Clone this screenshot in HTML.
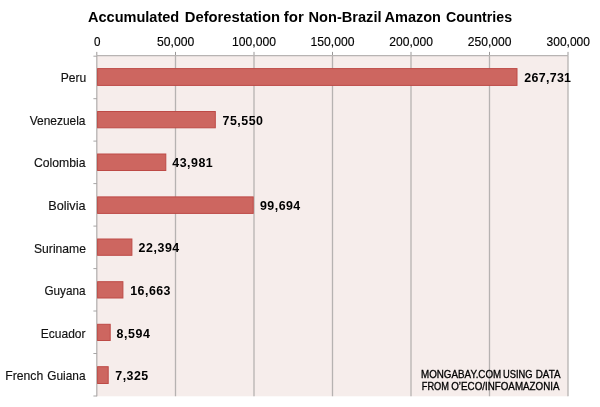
<!DOCTYPE html>
<html><head><meta charset="utf-8"><title>Accumulated Deforestation for Non-Brazil Amazon Countries</title>
<style>
html,body{margin:0;padding:0;background:#fff;}
body{width:600px;height:407px;overflow:hidden;}
svg{display:block;font-family:"Liberation Sans",sans-serif;}
.t{font-weight:bold;font-size:14px;fill:#000;}
.ax{font-size:12.8px;fill:#000;stroke:#000;stroke-width:0.15px;}
.cat{font-size:12.2px;fill:#111;stroke:#111;stroke-width:0.15px;}
.val{font-size:12.4px;font-weight:bold;fill:#000;}
.cr{font-size:10.2px;fill:#000;stroke:#000;stroke-width:0.3px;}
</style></head><body>
<svg width="600" height="407" viewBox="0 0 600 407">
<rect x="0" y="0" width="600" height="407" fill="#ffffff"/>
<rect x="97.0" y="55.7" width="471.0" height="340.6" fill="#f6edeb"/>
<line x1="96.8" y1="55.7" x2="96.8" y2="396.3" stroke="#b6b2b1" stroke-width="1.3"/>
<line x1="96.8" y1="51.9" x2="96.8" y2="55.7" stroke="#9a9898" stroke-width="1"/>
<line x1="175.5" y1="55.7" x2="175.5" y2="396.3" stroke="#b6b2b1" stroke-width="1.3"/>
<line x1="175.5" y1="51.9" x2="175.5" y2="55.7" stroke="#9a9898" stroke-width="1"/>
<line x1="254.0" y1="55.7" x2="254.0" y2="396.3" stroke="#b6b2b1" stroke-width="1.3"/>
<line x1="254.0" y1="51.9" x2="254.0" y2="55.7" stroke="#9a9898" stroke-width="1"/>
<line x1="332.5" y1="55.7" x2="332.5" y2="396.3" stroke="#b6b2b1" stroke-width="1.3"/>
<line x1="332.5" y1="51.9" x2="332.5" y2="55.7" stroke="#9a9898" stroke-width="1"/>
<line x1="411.0" y1="55.7" x2="411.0" y2="396.3" stroke="#b6b2b1" stroke-width="1.3"/>
<line x1="411.0" y1="51.9" x2="411.0" y2="55.7" stroke="#9a9898" stroke-width="1"/>
<line x1="489.5" y1="55.7" x2="489.5" y2="396.3" stroke="#b6b2b1" stroke-width="1.3"/>
<line x1="489.5" y1="51.9" x2="489.5" y2="55.7" stroke="#9a9898" stroke-width="1"/>
<line x1="568.0" y1="55.7" x2="568.0" y2="396.3" stroke="#b6b2b1" stroke-width="1.3"/>
<line x1="568.0" y1="51.9" x2="568.0" y2="55.7" stroke="#9a9898" stroke-width="1"/>
<line x1="97.0" y1="55.7" x2="568.0" y2="55.7" stroke="#b8b4b3" stroke-width="1.3"/>
<line x1="93.4" y1="56.2" x2="97.0" y2="56.2" stroke="#a8a6a6" stroke-width="1"/>
<line x1="93.4" y1="98.7" x2="97.0" y2="98.7" stroke="#a8a6a6" stroke-width="1"/>
<line x1="93.4" y1="141.1" x2="97.0" y2="141.1" stroke="#a8a6a6" stroke-width="1"/>
<line x1="93.4" y1="183.6" x2="97.0" y2="183.6" stroke="#a8a6a6" stroke-width="1"/>
<line x1="93.4" y1="226.1" x2="97.0" y2="226.1" stroke="#a8a6a6" stroke-width="1"/>
<line x1="93.4" y1="268.6" x2="97.0" y2="268.6" stroke="#a8a6a6" stroke-width="1"/>
<line x1="93.4" y1="311.0" x2="97.0" y2="311.0" stroke="#a8a6a6" stroke-width="1"/>
<line x1="93.4" y1="353.5" x2="97.0" y2="353.5" stroke="#a8a6a6" stroke-width="1"/>
<line x1="93.4" y1="396.0" x2="97.0" y2="396.0" stroke="#a8a6a6" stroke-width="1"/>
<rect x="97.6" y="68.60" width="419.4" height="16.80" fill="#cd6660" stroke="#bd4a46" stroke-width="1"/>
<rect x="97.6" y="111.50" width="117.7" height="16.30" fill="#cd6660" stroke="#bd4a46" stroke-width="1"/>
<rect x="97.6" y="154.00" width="68.2" height="16.50" fill="#cd6660" stroke="#bd4a46" stroke-width="1"/>
<rect x="97.6" y="196.90" width="155.6" height="16.50" fill="#cd6660" stroke="#bd4a46" stroke-width="1"/>
<rect x="97.6" y="239.00" width="34.3" height="16.30" fill="#cd6660" stroke="#bd4a46" stroke-width="1"/>
<rect x="97.6" y="281.70" width="25.3" height="16.30" fill="#cd6660" stroke="#bd4a46" stroke-width="1"/>
<rect x="97.6" y="324.30" width="12.6" height="16.20" fill="#cd6660" stroke="#bd4a46" stroke-width="1"/>
<rect x="97.6" y="366.70" width="10.6" height="16.80" fill="#cd6660" stroke="#bd4a46" stroke-width="1"/>
<text class="t" y="22.0"><tspan x="88.00" textLength="91.25" lengthAdjust="spacingAndGlyphs">Accumulated</tspan> <tspan x="184.75" textLength="95.25" lengthAdjust="spacingAndGlyphs">Deforestation</tspan> <tspan x="283.75" textLength="20.00" lengthAdjust="spacingAndGlyphs">for</tspan> <tspan x="308.50" textLength="73.00" lengthAdjust="spacingAndGlyphs">Non-Brazil</tspan> <tspan x="384.50" textLength="56.50" lengthAdjust="spacingAndGlyphs">Amazon</tspan> <tspan x="446.00" textLength="66.00" lengthAdjust="spacingAndGlyphs">Countries</tspan></text>
<text class="ax" y="45.8"><tspan x="94.00" textLength="6.50" lengthAdjust="spacingAndGlyphs">0</tspan></text>
<text class="ax" y="45.8"><tspan x="157.00" textLength="37.25" lengthAdjust="spacingAndGlyphs">50,000</tspan></text>
<text class="ax" y="45.8"><tspan x="232.00" textLength="44.00" lengthAdjust="spacingAndGlyphs">100,000</tspan></text>
<text class="ax" y="45.8"><tspan x="310.50" textLength="44.00" lengthAdjust="spacingAndGlyphs">150,000</tspan></text>
<text class="ax" y="45.8"><tspan x="389.25" textLength="43.75" lengthAdjust="spacingAndGlyphs">200,000</tspan></text>
<text class="ax" y="45.8"><tspan x="467.75" textLength="43.75" lengthAdjust="spacingAndGlyphs">250,000</tspan></text>
<text class="ax" y="45.8"><tspan x="546.50" textLength="43.50" lengthAdjust="spacingAndGlyphs">300,000</tspan></text>
<text class="cat" y="82.2"><tspan x="60.75" textLength="25.50" lengthAdjust="spacingAndGlyphs">Peru</tspan></text>
<text class="val" y="82.0"><tspan x="524.25" textLength="46.75" lengthAdjust="spacing">267,731</tspan></text>
<text class="cat" y="124.8"><tspan x="29.75" textLength="55.75" lengthAdjust="spacingAndGlyphs">Venezuela</tspan></text>
<text class="val" y="124.6"><tspan x="222.50" textLength="40.50" lengthAdjust="spacing">75,550</tspan></text>
<text class="cat" y="167.4"><tspan x="34.00" textLength="51.50" lengthAdjust="spacingAndGlyphs">Colombia</tspan></text>
<text class="val" y="167.2"><tspan x="172.25" textLength="40.50" lengthAdjust="spacing">43,981</tspan></text>
<text class="cat" y="210.0"><tspan x="48.25" textLength="37.25" lengthAdjust="spacingAndGlyphs">Bolivia</tspan></text>
<text class="val" y="209.8"><tspan x="260.00" textLength="40.25" lengthAdjust="spacing">99,694</tspan></text>
<text class="cat" y="252.5"><tspan x="34.00" textLength="52.00" lengthAdjust="spacingAndGlyphs">Suriname</tspan></text>
<text class="val" y="252.3"><tspan x="138.50" textLength="40.75" lengthAdjust="spacing">22,394</tspan></text>
<text class="cat" y="295.1"><tspan x="44.50" textLength="41.00" lengthAdjust="spacingAndGlyphs">Guyana</tspan></text>
<text class="val" y="294.9"><tspan x="130.25" textLength="40.25" lengthAdjust="spacing">16,663</tspan></text>
<text class="cat" y="337.7"><tspan x="40.75" textLength="44.75" lengthAdjust="spacingAndGlyphs">Ecuador</tspan></text>
<text class="val" y="337.5"><tspan x="116.50" textLength="33.50" lengthAdjust="spacing">8,594</tspan></text>
<text class="cat" y="380.3"><tspan x="5.25" textLength="38.00" lengthAdjust="spacingAndGlyphs">French</tspan> <tspan x="47.25" textLength="38.25" lengthAdjust="spacingAndGlyphs">Guiana</tspan></text>
<text class="val" y="380.1"><tspan x="115.25" textLength="33.00" lengthAdjust="spacing">7,325</tspan></text>
<text class="cr" y="377.6"><tspan x="421.00" textLength="80.25" lengthAdjust="spacingAndGlyphs">MONGABAY.COM</tspan> <tspan x="503.00" textLength="29.50" lengthAdjust="spacingAndGlyphs">USING</tspan> <tspan x="535.75" textLength="24.75" lengthAdjust="spacingAndGlyphs">DATA</tspan></text>
<text class="cr" y="389.9"><tspan x="421.75" textLength="27.25" lengthAdjust="spacingAndGlyphs">FROM</tspan> <tspan x="451.25" textLength="108.25" lengthAdjust="spacingAndGlyphs">O’ECO/INFOAMAZONIA</tspan></text>
</svg></body></html>
